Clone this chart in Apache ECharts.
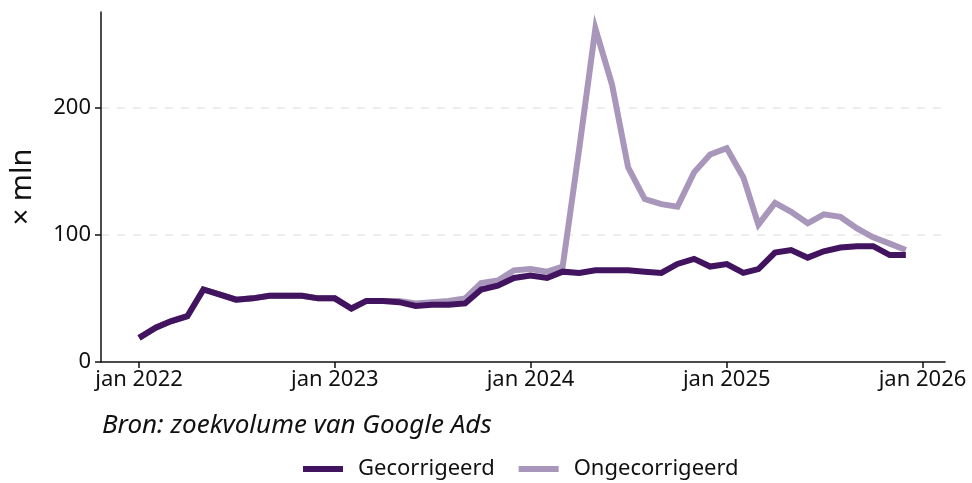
<!DOCTYPE html>
<html>
<head>
<meta charset="utf-8">
<script src="https://cdn.jsdelivr.net/npm/echarts@6/dist/echarts.min.js"></script>
<style>
  html, body { margin: 0; padding: 0; background: #fff; }
  #chart { width: 972px; height: 483px; }
</style>
</head>
<body>
<div id="chart"></div>
<script>
// maanden jan 2022 t/m dec 2025
var months = [];
for (var y = 2022; y <= 2025; y++) {
    for (var m = 1; m <= 12; m++) {
        months.push(y + '-' + (m < 10 ? '0' + m : m) + '-01');
    }
}

var gecorrigeerd = [
    19, 27, 32, 36, 57, 53, 49, 50, 52, 52, 52, 50,
    50, 42, 48, 48, 47, 44, 45, 45, 46, 57, 60, 66,
    68, 66, 71, 70, 72, 72, 72, 71, 70, 77, 81, 75,
    77, 70, 73, 86, 88, 82, 87, 90, 91, 91, 84, 84
];
var ongecorrigeerd = [
    19, 27, 32, 36, 57, 53, 49, 50, 52, 52, 52, 50,
    50, 42, 48, 48, 48, 46, 47, 48, 50, 62, 64, 72,
    73, 71, 75, 168, 262, 218, 153, 128, 124, 122, 149, 163,
    168, 145, 108, 125, 118, 109, 116, 114, 105, 98, 93, 88
];

var yTicks = [0, 100, 200];
var xTickDates = ['2022-01-01', '2023-01-01', '2024-01-01', '2025-01-01', '2026-01-01'];

var darkColor = '#42145f';
var lightColor = '#a896bb';
var fontFam = "'Liberation Sans Narrow', 'Noto Sans', sans-serif";

function ts(d) { return Date.parse(d + 'T00:00:00Z'); }
var xTicks = xTickDates.map(ts);

function pairs(vals) {
    return vals.map(function (v, i) { return [ts(months[i]), v]; });
}

var chart = echarts.init(document.getElementById('chart'));
var option = {
    animation: false,
    textStyle: { fontFamily: fontFam },
    title: {
        text: 'Bron: zoekvolume van Google Ads',
        left: 97,
        top: 408,
        textStyle: { fontFamily: fontFam, fontStyle: 'italic', fontWeight: 'normal', fontSize: 26, color: '#111' }
    },
    legend: {
        data: ['Gecorrigeerd', 'Ongecorrigeerd'],
        bottom: -2,
        left: 298,
        icon: 'rect',
        itemWidth: 40,
        itemHeight: 6,
        itemGap: 24,
        textStyle: { fontFamily: fontFam, fontSize: 22, color: '#111', padding: [0, 0, 0, 10] }
    },
    grid: { left: 100, right: 27, top: 12, bottom: 121, containLabel: false },
    xAxis: {
        type: 'value',
        min: ts('2021-10-22'),
        max: ts('2026-02-12'),
        axisLine: { lineStyle: { color: '#111', width: 1.5 } },
        axisTick: { show: true, length: 6, customValues: xTicks, lineStyle: { color: '#111', width: 1.5 } },
        axisLabel: {
            customValues: xTicks,
            fontSize: 22,
            color: '#111',
            margin: 7,
            formatter: function (v) { return 'jan ' + new Date(v).getUTCFullYear(); }
        },
        splitLine: { show: false }
    },
    yAxis: {
        type: 'value',
        min: 0,
        max: 275,
        interval: 100,
        name: '× mln',
        nameLocation: 'middle',
        nameGap: 64,
        nameTextStyle: { fontFamily: fontFam, fontSize: 29, color: '#111' },
        axisLine: { show: true, lineStyle: { color: '#111', width: 1.5 } },
        axisTick: { show: true, length: 6, customValues: yTicks, lineStyle: { color: '#111', width: 1.5 } },
        axisLabel: { customValues: yTicks, fontSize: 22, color: '#111', margin: 10 },
        splitLine: {
            show: true,
            showMinLine: false,
            showMaxLine: true,
            lineStyle: { color: '#e8e8e8', type: [8, 8], width: 1.5 }
        }
    },
    series: [
        {
            name: 'Ongecorrigeerd',
            type: 'line',
            data: pairs(ongecorrigeerd),
            showSymbol: false,
            symbol: 'none',
            z: 2,
            color: lightColor,
            lineStyle: { width: 6, color: lightColor, join: 'miter' }
        },
        {
            name: 'Gecorrigeerd',
            type: 'line',
            data: pairs(gecorrigeerd),
            showSymbol: false,
            symbol: 'none',
            z: 3,
            color: darkColor,
            lineStyle: { width: 6, color: darkColor, join: 'miter' }
        }
    ]
};
chart.setOption(option);
</script>
</body>
</html>
